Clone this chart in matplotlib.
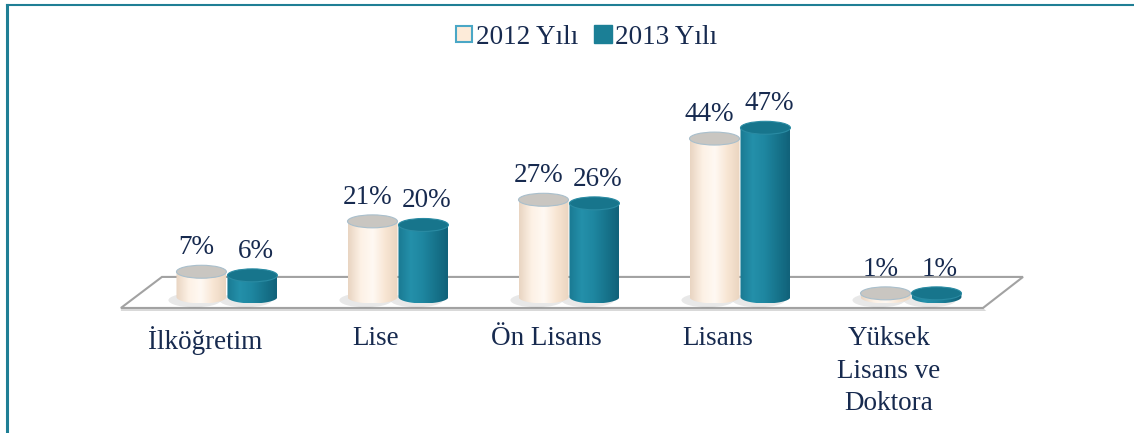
import numpy as np
import matplotlib.pyplot as plt
from matplotlib.patches import Ellipse, Polygon
from matplotlib.lines import Line2D
from matplotlib.colors import LinearSegmentedColormap

# data
categories = ['İlköğretim', 'Lise', 'Ön Lisans', 'Lisans', 'Yüksek\nLisans ve\nDoktora']
years = ['2012 Yılı', '2013 Yılı']
values_2012 = [7, 21, 27, 44, 1]
values_2013 = [6, 20, 26, 47, 1]

plt.rcParams['font.family'] = ['Liberation Serif', 'DejaVu Serif']
navy = '#172a4f'
teal = '#1b7f96'
fs = 19.5

fig = plt.figure(figsize=(11.34, 4.33), dpi=100)
ax = fig.add_axes([0, 0, 1, 1])
ax.axis('off')

w = 0.292       # bar width (category units)
eh = 3.6        # ellipse height (value units)
off = 0.149

cmap12 = LinearSegmentedColormap.from_list('c12', ['#e9d5c2', '#fdf1e5', '#fff9f3', '#f8e6d4', '#ead5c0'])
cmap13 = LinearSegmentedColormap.from_list('c13', ['#1a7a93', '#2490aa', '#1e86a0', '#17748c', '#11627a'])
grad = np.linspace(0, 1, 64).reshape(1, -1)


def cylinder(x, h, cmap, top_fc, top_ec, z):
    # soft shadow at the base
    ax.add_patch(Ellipse((x - 0.04, -0.9), w * 1.05, eh * 1.1, fc='#000000',
                         alpha=0.09, ec='none', zorder=z - 0.5))
    t = np.linspace(np.pi, 2 * np.pi, 60)
    pts = [(x - w / 2, h)] + list(zip(x + w / 2 * np.cos(t), eh / 2 * np.sin(t))) + [(x + w / 2, h)]
    body = Polygon(pts, closed=True, fc='none', ec='none', zorder=z)
    ax.add_patch(body)
    img = ax.imshow(grad, extent=(x - w / 2, x + w / 2, -eh / 2, h), aspect='auto',
                    cmap=cmap, zorder=z, interpolation='bilinear')
    img.set_clip_path(body)
    ax.add_patch(Ellipse((x, h), w, eh, fc=top_fc, ec=top_ec, lw=0.8, zorder=z + 0.1))


n = len(categories)
xs = np.arange(n)

# floor
floor = Polygon([(-0.38, 5.56), (n - 1 + 0.655, 5.56), (n - 1 + 0.421, -3.06), (-0.62, -3.06)],
                closed=True, fc='white', ec='#a2a2a2', lw=1.5, zorder=1)
ax.add_patch(floor)
ax.add_patch(Polygon([(-0.62, -3.06), (n - 1 + 0.421, -3.06), (n - 1 + 0.44, -3.9), (-0.62, -3.9)],
                     closed=True, fc='#d9d9d9', ec='none', zorder=0.9))

for i in range(n):
    cylinder(xs[i] + off, values_2013[i], cmap13, '#17758c', '#2a8ba3', 3)
    cylinder(xs[i] - off, values_2012[i], cmap12, '#c9c6c1', '#a9bfcc', 4)
    ax.text(xs[i] - off - 0.03, values_2012[i] + 6.7, f'{values_2012[i]}%', ha='center',
            va='center', fontsize=fs, color=navy, zorder=6)
    ax.text(xs[i] + off + 0.02, values_2013[i] + 6.7, f'{values_2013[i]}%', ha='center',
            va='center', fontsize=fs, color=navy, zorder=6)
    ax.text(xs[i] - 0.13, -8.2, categories[i], ha='center', va='top', fontsize=fs,
            color=navy, linespacing=1.38)

ax.set_xlim(-1.327, 5.304)
ax.set_ylim(-37.8, 82.5)

handles = [Line2D([], [], marker='s', ls='', ms=12, mfc='#fdebd9', mec='#4aa7c6', mew=1.5),
           Line2D([], [], marker='s', ls='', ms=13, mfc=teal, mec=teal)]
fig.legend(handles, years, loc='center', bbox_to_anchor=(585 / 1134, 1 - 37 / 433), ncol=2,
           frameon=False, fontsize=fs, handletextpad=0.05, columnspacing=0.5,
           handlelength=0.8, labelcolor=navy)

# frame lines
fig.add_artist(Line2D([7 / 1134, 7 / 1134], [0, 1 - 5 / 433], color='#1f7f95', lw=2.2))
fig.add_artist(Line2D([7 / 1134, 1], [1 - 5 / 433, 1 - 5 / 433], color='#1f7f95', lw=1.5))

fig.savefig('out.png', dpi=100)
